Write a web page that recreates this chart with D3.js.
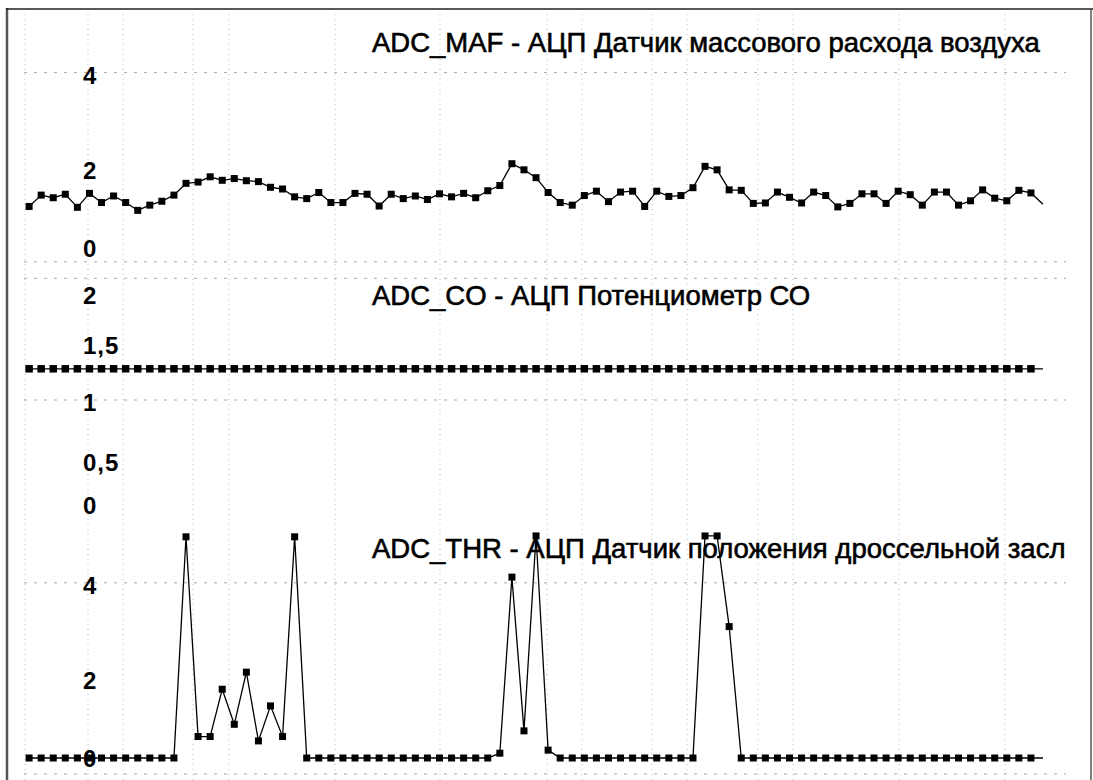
<!DOCTYPE html>
<html>
<head>
<meta charset="utf-8">
<script src="https://cdn.jsdelivr.net/npm/d3@7"></script>
<style>
  body { margin: 0; background: #fff; }
  text { font-family: "Liberation Sans", Arial, sans-serif; fill: #000; }
</style>
</head>
<body>
<div id="chart"></div>
<script>
(function() {
  var width = 1093,
    height = 780;

  // samples of each channel (one per scan step)
  var mafValues = [
    0.93, 1.19, 1.13, 1.21, 0.91, 1.23, 1.02, 1.17, 1.02, 0.84,
    0.96, 1.05, 1.19, 1.46, 1.49, 1.61, 1.53, 1.57, 1.52, 1.50,
    1.37, 1.33, 1.15, 1.11, 1.25, 1.02, 1.02, 1.23, 1.21, 0.94,
    1.21, 1.11, 1.17, 1.09, 1.22, 1.15, 1.23, 1.13, 1.29, 1.41,
    1.91, 1.77, 1.59, 1.25, 1.02, 0.96, 1.18, 1.28, 1.04, 1.26,
    1.28, 0.93, 1.28, 1.16, 1.18, 1.36, 1.85, 1.77, 1.31, 1.30,
    1.00, 1.01, 1.26, 1.14, 1.01, 1.26, 1.18, 0.92, 1.00, 1.22,
    1.22, 1.00, 1.28, 1.20, 0.96, 1.26, 1.26, 0.96, 1.06, 1.31,
    1.12, 1.06, 1.30, 1.24, 0.98
  ];

  var coValues = [
    1.3, 1.3, 1.3, 1.3, 1.3, 1.3, 1.3, 1.3, 1.3, 1.3,
    1.3, 1.3, 1.3, 1.3, 1.3, 1.3, 1.3, 1.3, 1.3, 1.3,
    1.3, 1.3, 1.3, 1.3, 1.3, 1.3, 1.3, 1.3, 1.3, 1.3,
    1.3, 1.3, 1.3, 1.3, 1.3, 1.3, 1.3, 1.3, 1.3, 1.3,
    1.3, 1.3, 1.3, 1.3, 1.3, 1.3, 1.3, 1.3, 1.3, 1.3,
    1.3, 1.3, 1.3, 1.3, 1.3, 1.3, 1.3, 1.3, 1.3, 1.3,
    1.3, 1.3, 1.3, 1.3, 1.3, 1.3, 1.3, 1.3, 1.3, 1.3,
    1.3, 1.3, 1.3, 1.3, 1.3, 1.3, 1.3, 1.3, 1.3, 1.3,
    1.3, 1.3, 1.3, 1.3, 1.3
  ];

  var thrValues = [
    0, 0, 0, 0, 0, 0, 0, 0, 0, 0,
    0, 0, 0, 5.05, 0.49, 0.49, 1.57, 0.77, 1.96, 0.39,
    1.19, 0.49, 5.05, 0, 0, 0, 0, 0, 0, 0,
    0, 0, 0, 0, 0, 0, 0, 0, 0, 0.11,
    4.13, 0.62, 5.07, 0.18, 0, 0, 0, 0, 0, 0,
    0, 0, 0, 0, 0, 0, 5.07, 5.07, 3.0, 0,
    0, 0, 0, 0, 0, 0, 0, 0, 0, 0,
    0, 0, 0, 0, 0, 0, 0, 0, 0, 0,
    0, 0, 0, 0, 0
  ];

  var mafTicks = [0, 2, 4],
    coTicks = [0, 0.5, 1, 1.5, 2],
    thrTicks = [0, 2, 4];

  var mafTitle = "ADC_MAF - АЦП Датчик массового расхода воздуха",
    coTitle = "ADC_CO - АЦП Потенциометр СО",
    thrTitle = "ADC_THR - АЦП Датчик положения дроссельной заслонки";

  // faint vertical grid, in sample units
  var vGrid = [-0.34, 4.88, 7.78, 13.58, 16.56, 25.35, 34.04, 42.91, 45.81, 51.61, 54.51, 60.39, 63.29, 72.07, 80.85];

  var ru = d3.formatLocale({decimal: ",", thousands: " ", grouping: [3], currency: ["", ""]});
  var fmt = ru.format("~g");

  var svg = d3.select("#chart")
    .append("svg")
    .attr("width", width)
    .attr("height", height)

  svg.append("rect").attr("width", width).attr("height", height).attr("fill", "#fff")

  var defs = svg.append("defs")
  defs.append("clipPath").attr("id", "plot-clip")
    .append("rect").attr("x", 0).attr("y", 0).attr("width", 1066).attr("height", height)

  var x = d3.scaleLinear().domain([0, 84]).range([29.1, 1043])

  // labelShift: the printed labels sit a little off their gridline on the sheet
  var panels = [
    {values: mafValues, ticks: mafTicks, title: mafTitle,
      y: d3.scaleLinear().domain([0, 4]).range([247, 72.6]),
      grid: [4, -0.34], titleY: 52, marker: 7, labelShift: {0: 1, 2: 10, 4: 2}},
    {values: coValues, ticks: coTicks, title: coTitle,
      y: d3.scaleLinear().domain([0, 2]).range([504, 296]),
      grid: [2.17, 1], titleY: 305, marker: 7.5, labelShift: {0: 1, 0.5: 10, 1: 2, 1.5: -3, 2: -1}},
    {values: thrValues, ticks: thrTicks, title: thrTitle,
      y: d3.scaleLinear().domain([0, 4]).range([758, 582.8]),
      grid: [4, -0.365], titleY: 558, marker: 7, labelShift: {0: 0, 2: 9, 4: 2}}
  ]

  // vertical grid
  svg.append("g")
    .selectAll("line")
    .data(vGrid)
    .enter().append("line")
    .attr("x1", function(d) { return x(d) })
    .attr("x2", function(d) { return x(d) })
    .attr("y1", 14)
    .attr("y2", height)
    .attr("stroke", "#bdbdbd")
    .attr("stroke-width", 1)
    .attr("stroke-dasharray", "1,4")

  var plot = svg.append("g").attr("clip-path", "url(#plot-clip)")

  panels.forEach(function(p) {
    var g = plot.append("g")

    g.selectAll(".hgrid")
      .data(p.grid)
      .enter().append("line")
      .attr("class", "hgrid")
      .attr("x1", 24)
      .attr("x2", 1080)
      .attr("y1", function(d) { return p.y(d) })
      .attr("y2", function(d) { return p.y(d) })
      .attr("stroke", "#a8a8a8")
      .attr("stroke-width", 1)
      .attr("stroke-dasharray", "3,7")

    var axis = d3.axisLeft(p.y).tickValues(p.ticks).tickSize(0).tickFormat(fmt)
    var ag = g.append("g")
      .attr("transform", "translate(83,0)")
      .call(axis)
    ag.select(".domain").remove()
    ag.selectAll(".tick text")
      .attr("x", 0)
      .attr("y", function(d) { return p.labelShift[d] || 0 })
      .attr("dy", "0.36em")
      .attr("fill", "#000")
      .style("text-anchor", "start")
      .style("font-size", "24px")
      .style("font-weight", "bold")
      .style("letter-spacing", "1px")
      .style("font-family", "'Liberation Sans', Arial, sans-serif")

    g.append("text")
      .attr("x", 372)
      .attr("y", p.titleY)
      .style("font-size", "27.5px")
      .attr("stroke", "#000")
      .attr("stroke-width", 0.6)
      .text(p.title)

    var line = d3.line()
      .x(function(d, i) { return x(i) })
      .y(function(d) { return p.y(d) })

    g.append("path")
      .datum(p.values)
      .attr("d", line)
      .attr("fill", "none")
      .attr("stroke", "#000")
      .attr("stroke-width", 1.3)

    // last sample sits on the plot edge, no marker there
    g.selectAll(".pt")
      .data(p.values.slice(0, p.values.length - 1))
      .enter().append("rect")
      .attr("class", "pt")
      .attr("x", function(d, i) { return x(i) - p.marker / 2 })
      .attr("y", function(d) { return p.y(d) - p.marker / 2 })
      .attr("width", p.marker)
      .attr("height", p.marker)
      .attr("fill", "#000")
  })

  // frame of the scanned sheet
  svg.append("line").attr("x1", 7).attr("x2", 7).attr("y1", 8).attr("y2", height)
    .attr("stroke", "#555").attr("stroke-width", 2.5)
  svg.append("line").attr("x1", 6).attr("x2", width).attr("y1", 9).attr("y2", 9)
    .attr("stroke", "#222").attr("stroke-width", 1.6)
  svg.append("line").attr("x1", 1091).attr("x2", 1091).attr("y1", 8).attr("y2", height)
    .attr("stroke", "#555").attr("stroke-width", 1.5)

})();
</script>
</body>
</html>
